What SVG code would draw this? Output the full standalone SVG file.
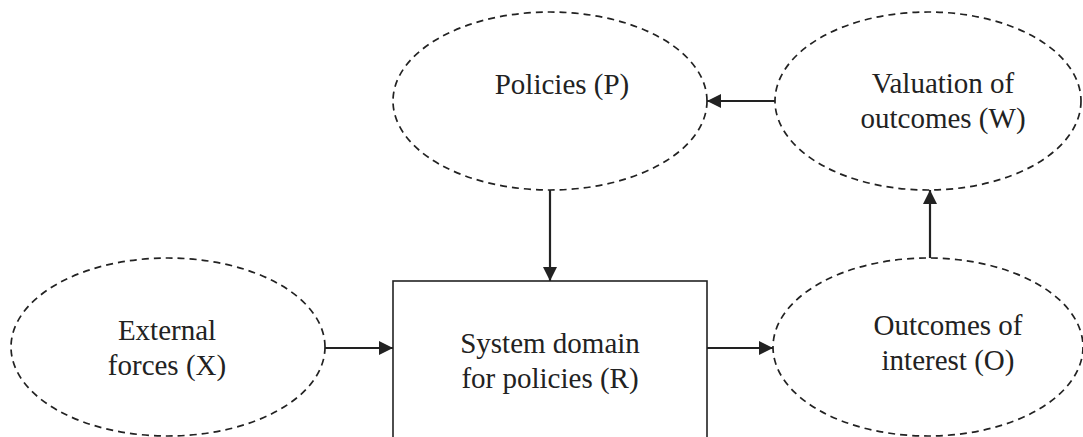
<svg xmlns="http://www.w3.org/2000/svg" width="1083" height="437" viewBox="0 0 1083 437">
<defs>
<marker id="ah" viewBox="0 0 10 10" refX="10" refY="5" markerWidth="14" markerHeight="14" markerUnits="userSpaceOnUse" orient="auto">
<path d="M0,0 L10,5 L0,10 Z" fill="#222"/>
</marker>
<style>
.el{fill:none;stroke:#222;stroke-width:1.7;stroke-dasharray:7 5}
.bx{fill:#fff;stroke:#222;stroke-width:1.6}
.t{font-family:"Liberation Serif","Times New Roman",serif;font-size:29px;fill:#222;text-anchor:middle}
.c{stroke:#222;stroke-width:2.2;fill:none;marker-end:url(#ah)}
</style>
</defs>
<rect width="1083" height="437" fill="#fff"/>
<g id="policies">
<ellipse class="el" cx="550" cy="101" rx="157" ry="89"/>
<text class="t" x="562" y="94">Policies (P)</text>
</g>
<g id="valuation">
<ellipse class="el" cx="928" cy="101" rx="153" ry="89"/>
<text class="t" x="943" y="93">Valuation of</text>
<text class="t" x="943" y="128">outcomes (W)</text>
</g>
<g id="external">
<ellipse class="el" cx="168" cy="347" rx="157" ry="89"/>
<text class="t" x="167" y="340">External</text>
<text class="t" x="167" y="375">forces (X)</text>
</g>
<g id="system">
<rect class="bx" x="393" y="281" width="314" height="170"/>
<text class="t" x="550" y="353">System domain</text>
<text class="t" x="550" y="388">for policies (R)</text>
</g>
<g id="outcomes">
<ellipse class="el" cx="928" cy="347" rx="155" ry="89"/>
<text class="t" x="948" y="335">Outcomes of</text>
<text class="t" x="948" y="370">interest (O)</text>
</g>
<g id="connectors">
<path class="c" d="M325,348 H393"/>
<path class="c" d="M707,348 H773"/>
<path class="c" d="M550,190 V281"/>
<path class="c" d="M930,258 V190"/>
<path class="c" d="M775,101 H707"/>
</g>
</svg>
